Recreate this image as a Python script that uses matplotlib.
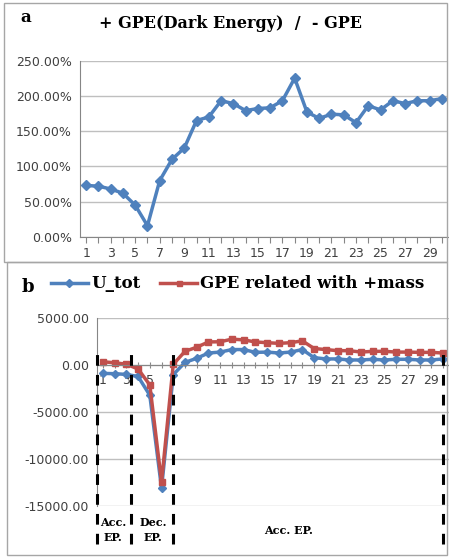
# Two stacked Excel-style panels: GPE ratio (a) and U_tot vs GPE (b)
import matplotlib.pyplot as plt
from matplotlib.patches import Rectangle
import numpy as np

plt.rcParams['font.family'] = 'DejaVu Sans'

# data
steps = np.arange(1, 31)
ratio_pct = [73, 72, 68, 62, 45, 16, 80, 110, 126, 165,
             170, 193, 189, 179, 182, 183, 193, 225, 177, 168,
             174, 173, 162, 186, 180, 193, 189, 193, 193, 196]
u_tot = [-870, -900, -980, -1200, -3200, -13100, -1000, 300, 740, 1300,
         1400, 1670, 1670, 1370, 1400, 1300, 1400, 1670, 810, 670,
         670, 560, 560, 630, 560, 630, 630, 560, 560, 670]
gpe_mass = [370, 260, 110, -400, -2100, -12450, 100, 1480, 1920, 2480,
            2500, 2780, 2700, 2480, 2400, 2330, 2400, 2600, 1780, 1670,
            1550, 1550, 1400, 1480, 1480, 1400, 1400, 1370, 1370, 1300]
phase_bounds = [0.5, 3.4, 6.95, 30.0]
phase_labels = ['Acc.\nEP.', 'Dec.\nEP.', 'Acc. EP.']

blue = '#4F81BD'
red = '#C0504D'
grid_c = '#BFBFBF'
tick_c = '#404040'
W, H = 449, 558

fig = plt.figure(figsize=(W / 100, H / 100), dpi=100)

# panel borders
for (x0, y0, x1, y1) in [(4, 3, 447, 262), (7, 262, 447, 555)]:
    fig.patches.append(Rectangle((x0 / W, 1 - y1 / H), (x1 - x0) / W, (y1 - y0) / H,
                                 transform=fig.transFigure, fill=False,
                                 edgecolor='#A6A6A6', lw=1.0))

def excel_style(ax):
    for s in ['top', 'right']:
        ax.spines[s].set_visible(False)
    ax.spines['left'].set_color('#868686')
    ax.spines['bottom'].set_color('#868686')
    ax.yaxis.grid(True, color=grid_c, lw=1.0)
    ax.set_axisbelow(True)
    ax.tick_params(axis='y', length=0, labelsize=9, colors=tick_c, pad=6)
    ax.tick_params(axis='x', length=4, color='#868686', labelsize=9,
                   labelcolor=tick_c)
    ax.set_xticks(steps, minor=False)
    ax.set_xticklabels([str(s) if s % 2 == 1 else '' for s in steps])
    ax.set_xlim(0.5, 30.5)

# ---- panel a ----
ax1 = fig.add_axes([80 / W, 1 - 237 / H, 368 / W, (237 - 60.5) / H])
excel_style(ax1)
ax1.plot(steps, ratio_pct, color=blue, lw=2.5, marker='D', ms=5.5)
ax1.set_ylim(0, 250)
ax1.set_yticks([0, 50, 100, 150, 200, 250])
ax1.set_yticklabels(['%.2f%%' % v for v in [0, 50, 100, 150, 200, 250]])
fig.text(20 / W, 1 - 17 / H, 'a', family='DejaVu Serif', weight='bold',
         fontsize=12, va='center')
fig.text(231 / W, 1 - 24 / H, '+ GPE(Dark Energy)  /  - GPE', family='DejaVu Serif',
         weight='bold', fontsize=11.5, ha='center', va='center')

# ---- panel b ----
ax2 = fig.add_axes([97 / W, 1 - 506 / H, 352 / W, (506 - 318.3) / H])
excel_style(ax2)
ax2.spines['bottom'].set_position(('data', 0))
ax2.tick_params(axis='x', direction='inout', length=5, pad=4)
l1, = ax2.plot(steps, u_tot, color=blue, lw=2.5, marker='D', ms=4.5, label='U_tot')
l2, = ax2.plot(steps, gpe_mass, color=red, lw=2.5, marker='s', ms=4.5,
               label='GPE related with +mass')
ax2.set_ylim(-15000, 5000)
ax2.set_yticks([-15000, -10000, -5000, 0, 5000])
ax2.set_yticklabels(['%.2f' % v for v in [-15000, -10000, -5000, 0, 5000]])

trans = ax2.get_xaxis_transform()
for xb in phase_bounds:
    ax2.plot([xb, xb], [-0.2, 0.845], transform=trans, color='black', lw=2.2,
             ls=(0, (3.5, 3)), clip_on=False, zorder=5)
for xt, yt, txt in zip([1.85, 5.3, 16.8], [-0.128, -0.128, -0.13], phase_labels):
    ax2.text(xt, yt, txt, transform=trans, ha='center', va='center',
             family='DejaVu Serif', weight='bold', fontsize=8, linespacing=1.5)

fig.text(22 / W, 1 - 287 / H, 'b', family='DejaVu Serif', weight='bold',
         fontsize=13, va='center')
fig.legend(handles=[l1, l2], loc='center left', bbox_to_anchor=(36 / W, 1 - 284 / H),
           ncol=2, frameon=False, handlelength=2.2, handletextpad=0.2,
           columnspacing=1.2, markerscale=0.8,
           prop={'family': 'DejaVu Serif', 'weight': 'bold', 'size': 12})

fig.savefig('out.png', dpi=100)
